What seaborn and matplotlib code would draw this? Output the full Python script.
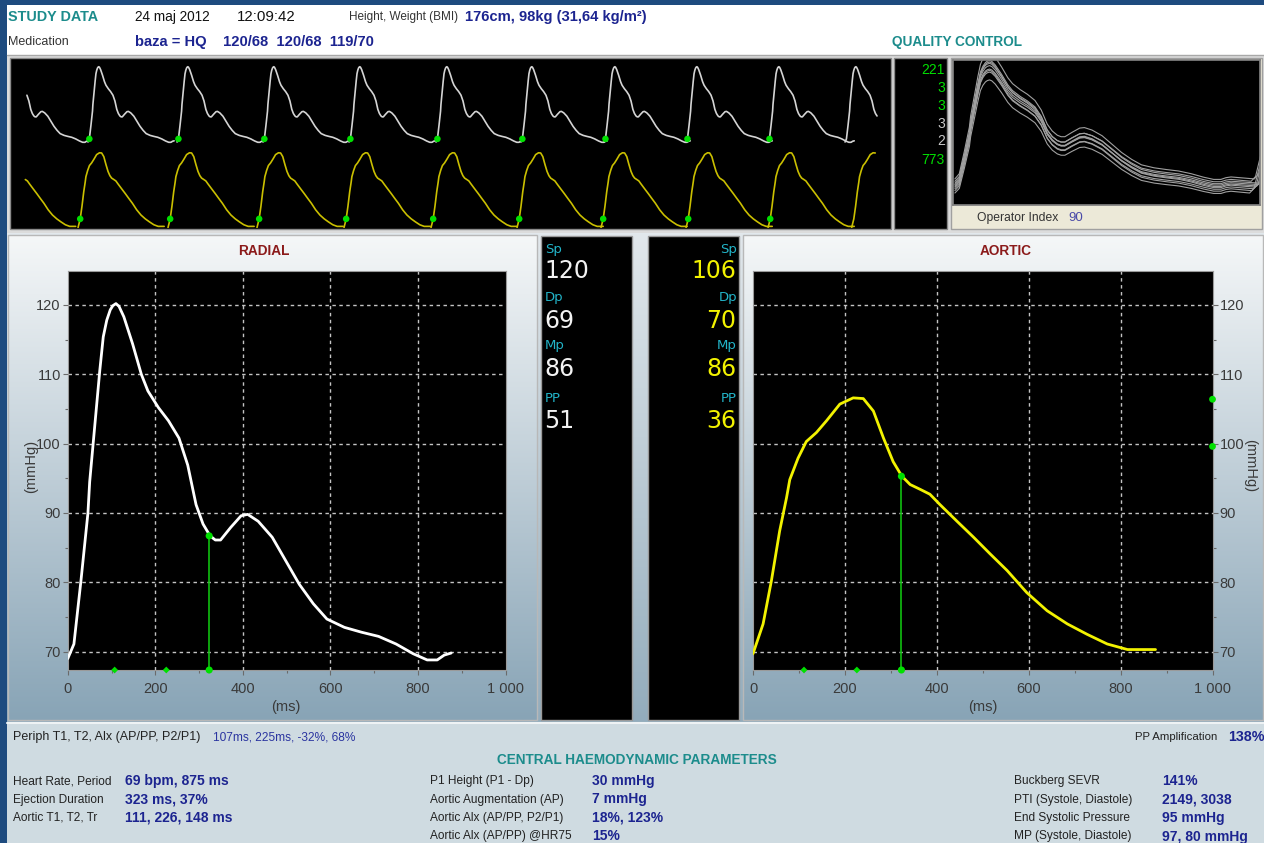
import numpy as np
import pandas as pd
import matplotlib
matplotlib.use("Agg")
import matplotlib.pyplot as plt
import seaborn as sns
from matplotlib.patches import Rectangle
from matplotlib.colors import LinearSegmentedColormap
from matplotlib.ticker import MultipleLocator

# ---------------- data ----------------
radial_t = [0, 14, 30, 46, 50, 73, 81, 89, 97, 103, 110, 117, 128, 148, 168, 183, 207, 230, 254,
            274, 293, 309, 325, 337, 349, 372, 396, 411, 435, 467, 498, 529, 561, 592, 632, 671,
            710, 750, 789, 821, 844, 860, 876]
radial_p = [69.0, 71.1, 80.2, 90.0, 94.5, 110.5, 115.4, 117.8, 119.3, 119.9, 120.2, 119.8, 118.3,
            114.4, 110.0, 107.6, 105.2, 103.3, 100.8, 96.9, 91.2, 88.4, 86.7, 86.1, 86.1, 87.9,
            89.6, 89.8, 88.8, 86.5, 83.1, 79.7, 76.9, 74.7, 73.5, 72.8, 72.2, 71.1, 69.7, 68.8,
            68.8, 69.5, 69.8]

aortic_t = [0, 22, 40, 58, 73, 80, 87, 98, 116, 138, 160, 189, 218, 240, 262, 284, 305, 324, 342,
            364, 385, 407, 444, 480, 516, 553, 596, 640, 684, 727, 771, 815, 876]
aortic_p = [69.7, 74.0, 80.2, 87.4, 92.2, 94.8, 96.0, 97.9, 100.3, 101.6, 103.3, 105.7, 106.6,
            106.5, 104.7, 100.8, 97.4, 95.3, 94.1, 93.4, 92.7, 91.2, 88.8, 86.5, 84.1, 81.7, 78.5,
            75.9, 74.0, 72.5, 71.1, 70.3, 70.3]

radial_marker_t = [107, 225]
aortic_marker_t = [111, 226]
ejection_ms = 323
radial_ed_p = 86.7
aortic_ed_p = 95.3
aortic_edge_p = [106.4, 99.6]

strip_radial_onsets = [-82, 793, 1699, 2573, 3448, 4333, 5197, 6042, 6876, 7710, 8493]
strip_aortic_onsets = [-208, 692, 1607, 2512, 3397, 4282, 5157, 6011, 6876, 7710, 8560]
strip_window = [153, 8818]

qc_offsets = [-3.0, -2.0, -1.2, -0.5, 0.0, 0.6, 1.2, 2.0, 3.0]
qc_gains = [0.94, 1.00, 0.97, 1.04, 1.00, 0.96, 1.02, 0.98, 1.05]
qc_next_onset = [935, 942, 948, 953, 958, 962, 965, 940, 950]

qc_counts = ["221", "3", "3", "3", "2", "773"]
qc_count_ok = [True, True, True, False, False, True]
operator_index = "90"

param_names = ["Sp", "Dp", "Mp", "PP"]
radial_params = [120, 69, 86, 51]
aortic_params = [106, 70, 86, 36]

x_ticks = [0, 200, 400, 600, 800, 1000]
x_tick_labels = ["0", "200", "400", "600", "800", "1 000"]
y_ticks = [70, 80, 90, 100, 110, 120]

left_labels = ["Heart Rate, Period", "Ejection Duration", "Aortic T1, T2, Tr"]
left_values = ["69 bpm, 875 ms", "323 ms, 37%", "111, 226, 148 ms"]
mid_labels = ["P1 Height (P1 - Dp)", "Aortic Augmentation (AP)", "Aortic Alx (AP/PP, P2/P1)",
              "Aortic Alx (AP/PP) @HR75"]
mid_values = ["30 mmHg", "7 mmHg", "18%, 123%", "15%"]
right_labels = ["Buckberg SEVR", "PTI (Systole, Diastole)", "End Systolic Pressure",
                "MP (Systole, Diastole)"]
right_values = ["141%", "2149, 3038", "95 mmHg", "97, 80 mmHg"]

# ---------------- style ----------------
sns.set_theme(style="dark")
FONT = ["Liberation Sans", "DejaVu Sans"]
plt.rcParams["font.family"] = FONT

W, H = 1264, 843
fig = plt.figure(figsize=(W / 100, H / 100), dpi=100)
fig.patch.set_facecolor("#1e4b7f")

bg = fig.add_axes([0, 0, 1, 1])
bg.axis("off")


def rect(x0, y0, x1, y1, fc, ec="none", lw=0.0, z=1):
    bg.add_patch(Rectangle((x0, y0), x1 - x0, y1 - y0, facecolor=fc, edgecolor=ec, linewidth=lw, zorder=z))


def grad(x0, y0, x1, y1, c0, c1, z=1):
    cm = LinearSegmentedColormap.from_list("g", [c0, c1])
    bg.imshow(np.linspace(0, 1, 256)[:, None], cmap=cm, extent=(x0, x1, y1, y0), aspect="auto",
              zorder=z, interpolation="bilinear")


def T(x, y, s, size=10.5, color="#2a2a2a", weight="normal", ha="left", va="center", family=None, **kw):
    bg.text(x, y, s, fontsize=size, color=color, fontweight=weight, ha=ha, va=va,
            family=family or FONT, zorder=10, **kw)


def px_axes(x0, y0, x1, y1):
    return fig.add_axes([x0 / W, 1 - y1 / H, (x1 - x0) / W, (y1 - y0) / H])


TEAL = "#1c8c8c"
NAVY = "#1c2490"
GREEN = "#00e000"

# background regions
rect(7, 5, W, 55, "white")
rect(7, 55, W, 233, "#dcdcdc")
bg.plot([7, W], [54.5, 54.5], color="#a8a8a8", lw=1, zorder=2)
grad(7, 233, W, 722, "#e2e8ec", "#93acbc")
grad(8, 235, 537, 720, "#f5f7f8", "#88a4b6", z=2)
rect(8, 235, 537, 720, "none", ec="#b8b8b8", lw=1, z=3)
grad(743, 235, W - 1, 720, "#f5f7f8", "#88a4b6", z=2)
rect(743, 235, W - 1, 720, "none", ec="#b8b8b8", lw=1, z=3)
rect(541, 236, 632, 720, "black", ec="#9a9a9a", lw=1, z=3)
rect(648, 236, 739, 720, "black", ec="#9a9a9a", lw=1, z=3)
rect(7, 722, W, H, "#cfdbe1")
bg.plot([7, W], [722.5, 722.5], color="#eef2f4", lw=1.5, zorder=3)
rect(10, 58, 891, 229, "black", ec="#8a8a8a", lw=1, z=3)
rect(894, 58, 947, 229, "black", ec="#8a8a8a", lw=1, z=3)
rect(951, 58, W - 2, 229, "#ece9d8", ec="#a0a0a0", lw=1, z=3)

bg.set_xlim(0, W)
bg.set_ylim(H, 0)

# ---------------- header text ----------------
T(8, 17, "STUDY DATA", 10.4, TEAL, "bold")
T(135, 17, "24 maj 2012", 9.8, "#111111")
T(237, 17, "12:09:42", 10.8, "#111111")
T(349, 17, "Height, Weight (BMI)", 8.5, "#333333")
T(465, 17, "176cm, 98kg (31,64 kg/m²)", 10.6, NAVY, "bold")
T(8, 42, "Medication", 9.0, "#333333")
T(135, 42, "baza = HQ    120/68  120/68  119/70", 10.6, NAVY, "bold")
T(957, 42, "QUALITY CONTROL", 9.8, TEAL, "bold", ha="center")

# ---------------- strip of beats ----------------
def beats_frame(onsets, bt, bp):
    rows = []
    for i, on in enumerate(onsets):
        for t, p in zip(bt, bp):
            rows.append((i, on + t, p))
    df = pd.DataFrame(rows, columns=["beat", "t", "p"])
    return df[(df.t >= strip_window[0]) & (df.t <= strip_window[1])]


ax_sr = px_axes(10, 60, 890, 150)
ax_sa = px_axes(10, 150, 890, 228)
for a in (ax_sr, ax_sa):
    a.set_facecolor("none")
    a.set_xlim(0, 8950)
    a.axis("off")
ax_sr.set_ylim(63.56, 124.76)
ax_sa.set_ylim(69.5, 107.97)

sns.lineplot(data=beats_frame(strip_radial_onsets, radial_t, radial_p), x="t", y="p", units="beat",
             estimator=None, sort=False, color="#d4d4d4", lw=1.2, ax=ax_sr)
sns.lineplot(data=beats_frame(strip_aortic_onsets, aortic_t, aortic_p), x="t", y="p", units="beat",
             estimator=None, sort=False, color="#cabf00", lw=1.2, ax=ax_sa)
ron = [o for o in strip_radial_onsets if strip_window[0] <= o <= strip_window[1] - 400]
aon = [o for o in strip_aortic_onsets if strip_window[0] <= o <= strip_window[1] - 400]
sns.scatterplot(x=[o + radial_t[1] for o in ron], y=[radial_p[1]] * len(ron), s=22, color=GREEN,
                edgecolor="none", ax=ax_sr, zorder=5)
sns.scatterplot(x=[o + aortic_t[1] for o in aon], y=[aortic_p[1]] * len(aon), s=22, color=GREEN,
                edgecolor="none", ax=ax_sa, zorder=5)

# ---------------- quality control ----------------
for i, (v, ok) in enumerate(zip(qc_counts, qc_count_ok)):
    T(945, [70, 88, 106, 124, 141, 160][i], v, 10, GREEN if ok else "#c8c8c8", ha="right")

ax_qc = px_axes(953, 60, 1260, 205)
ax_qc.set_facecolor("black")
qrows = []
for k, (off, g, nxt) in enumerate(zip(qc_offsets, qc_gains, qc_next_onset)):
    for t, p in zip(radial_t, radial_p):
        qrows.append((k, t, radial_p[0] + (p - radial_p[0]) * g + off))
    for t, p in zip(radial_t, radial_p):
        qrows.append((k, nxt + t, radial_p[0] + (p - radial_p[0]) * g + off))
qdf = pd.DataFrame(qrows, columns=["trace", "t", "p"])
sns.lineplot(data=qdf, x="t", y="p", units="trace", estimator=None, sort=False, color="#a0a0a0",
             lw=0.8, ax=ax_qc)
ax_qc.set_xlim(-6, 968)
ax_qc.set_ylim(60.9, 122.6)
ax_qc.set_xticks([]); ax_qc.set_yticks([])
ax_qc.set_xlabel(""); ax_qc.set_ylabel("")
for s in ax_qc.spines.values():
    s.set_color("#808080")
T(977, 218, "Operator Index", 8.7, "#333333")
T(1068, 218, operator_index, 9.5, "#4a4aa8")

# ---------------- main pulse panels ----------------
def style_pulse(ax, right=False):
    ax.set_facecolor("black")
    ax.set_xlim(0, 1000)
    ax.set_ylim(67.35, 124.9)
    ax.set_xticks(x_ticks)
    ax.set_xticklabels(x_tick_labels)
    ax.set_yticks(y_ticks)
    ax.xaxis.set_minor_locator(MultipleLocator(100))
    ax.yaxis.set_minor_locator(MultipleLocator(5))
    ax.tick_params(which="major", length=3.5, width=0.8, color="#6a6a6a", labelcolor="#3a3a3a",
                   labelsize=10.5, bottom=True, left=not right, right=right, labelleft=not right,
                   labelright=right)
    ax.tick_params(axis="x", which="major", pad=5)
    ax.tick_params(axis="y", which="major", pad=1.5)
    ax.tick_params(which="minor", length=2, width=0.8, color="#6a6a6a", bottom=True,
                   left=not right, right=right)
    ax.set_xlabel(""); ax.set_ylabel("")
    for gx in x_ticks[1:-1]:
        ax.axvline(gx, color="#c4c4c4", lw=1.0, ls=(0, (2.5, 2.5)), zorder=1)
    for gy in y_ticks:
        ax.axhline(gy, color="#c4c4c4", lw=1.0, ls=(0, (2.5, 2.5)), zorder=1)
    for s in ax.spines.values():
        s.set_color("#9a9a9a")
        s.set_linewidth(0.8)


ax_r = px_axes(67.8, 271, 505.5, 670)
sns.lineplot(x=radial_t, y=radial_p, color="white", lw=2.0, ax=ax_r, zorder=3)
style_pulse(ax_r)
ax_r.plot([ejection_ms, ejection_ms], [67.35, radial_ed_p], color="#10c010", lw=1.2, zorder=4)
sns.scatterplot(x=radial_marker_t, y=[67.35] * 2, marker="D", s=12, color=GREEN, edgecolor="none",
                ax=ax_r, zorder=6, clip_on=False)
sns.scatterplot(x=[ejection_ms, ejection_ms], y=[67.35, radial_ed_p], s=26, color=GREEN,
                edgecolor="none", ax=ax_r, zorder=6, clip_on=False)

ax_a = px_axes(753, 271, 1212.5, 670)
sns.lineplot(x=aortic_t, y=aortic_p, color="#f2f200", lw=2.0, ax=ax_a, zorder=3)
style_pulse(ax_a, right=True)
ax_a.plot([ejection_ms, ejection_ms], [67.35, aortic_ed_p], color="#10c010", lw=1.2, zorder=4)
sns.scatterplot(x=aortic_marker_t, y=[67.35] * 2, marker="D", s=12, color=GREEN, edgecolor="none",
                ax=ax_a, zorder=6, clip_on=False)
sns.scatterplot(x=[ejection_ms, ejection_ms], y=[67.35, aortic_ed_p], s=26, color=GREEN,
                edgecolor="none", ax=ax_a, zorder=6, clip_on=False)
sns.scatterplot(x=[1000] * len(aortic_edge_p), y=aortic_edge_p, s=24, color=GREEN,
                edgecolor="none", ax=ax_a, zorder=6, clip_on=False)

T(264, 251, "RADIAL", 9.8, "#8b1a1a", "bold", ha="center")
T(1006, 251, "AORTIC", 9.8, "#8b1a1a", "bold", ha="center")
T(286, 707, "(ms)", 10.5, "#3a3a3a", ha="center")
T(983, 707, "(ms)", 10.5, "#3a3a3a", ha="center")
T(31, 466, "(mmHg)", 10.5, "#3a3a3a", ha="center", rotation=90)
T(1250, 466, "(mmHg)", 10.5, "#3a3a3a", ha="center", rotation=270)

# ---------------- parameter columns ----------------
label_y = [249, 297, 346, 399]
value_y = [271, 321, 369, 421]
for name, rv, av, ly, vy in zip(param_names, radial_params, aortic_params, label_y, value_y):
    T(545, ly, name, 9.5, "#22b4c8", family="DejaVu Sans")
    T(544, vy, str(rv), 17, "#f2f2f2", family="DejaVu Sans")
    T(737, ly, name, 9.5, "#22b4c8", ha="right", family="DejaVu Sans")
    T(736, vy, str(av), 17, "#f2f200", ha="right", family="DejaVu Sans")

# ---------------- bottom parameters ----------------
T(13, 737, "Periph T1, T2, Alx (AP/PP, P2/P1)", 9.0, "#222222")
T(213, 737, "107ms, 225ms, -32%, 68%", 8.6, "#2a34a0")
T(1135, 737, "PP Amplification", 8.2, "#222222")
T(1228, 737, "138%", 10.3, NAVY, "bold")
T(637, 760, "CENTRAL HAEMODYNAMIC PARAMETERS", 9.8, TEAL, "bold", ha="center")
rows_y = [781, 799.5, 818, 836.5]
for lab, val, y in zip(left_labels, left_values, rows_y):
    T(13, y, lab, 8.6, "#222222")
    T(125, y, val, 10.0, NAVY, "bold")
for lab, val, y in zip(mid_labels, mid_values, rows_y):
    T(430, y, lab, 8.6, "#222222")
    T(592, y, val, 10.0, NAVY, "bold")
for lab, val, y in zip(right_labels, right_values, rows_y):
    T(1014, y, lab, 8.6, "#222222")
    T(1162, y, val, 10.0, NAVY, "bold")

fig.savefig("out.png", dpi=100, facecolor=fig.get_facecolor())
